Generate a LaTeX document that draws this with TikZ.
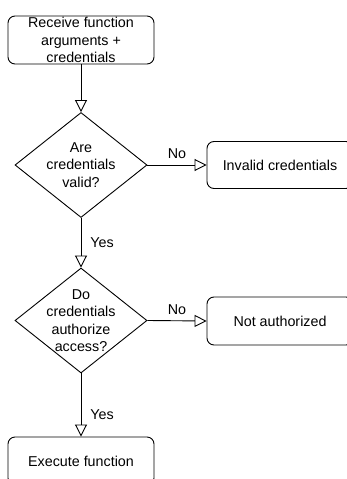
\documentclass[tikz,border=0pt]{standalone}
\usepackage{fontspec}
\setmainfont{Liberation Sans}
\usetikzlibrary{shapes.geometric,arrows.meta}
\begin{document}
\begin{tikzpicture}[x=1pt,y=1pt,
  every node/.style={font=\fontsize{14.3}{17.3}\selectfont},
  procbox/.style={draw, rounded corners=7pt, line width=0.9pt,
    minimum width=146pt, minimum height=48pt, inner sep=0pt, align=center},
  decision/.style={draw, diamond, line width=0.9pt, inner sep=0pt,
    minimum width=132pt, minimum height=105pt},
  flow/.style={line width=0.9pt,
    -{Triangle[open, length=12pt, width=12pt, line width=0.9pt]}},
  edgelabel/.style={inner sep=1pt}]
\useasboundingbox (0,0) rectangle (347,-479);
\clip (0,0) rectangle (347,-479);

% process boxes
\node[procbox] (recv) at (81,-40) {Receive function\\arguments +\\credentials};
\node[procbox, minimum height=47pt] (invalid) at (280,-165) {Invalid credentials};
\node[procbox] (noauth) at (280,-321) {Not authorized};
\node[procbox] (exec) at (81,-461) {Execute function};

% decisions (text set separately so the shape keeps its size)
\node[decision] (valid) at (81,-165) {};
\node[align=center] at (valid) {Are\\credentials\\valid?};
\node[decision] (authz) at (81,-320.5) {};
\node[align=center] at (authz) {Do\\credentials\\authorize\\access?};

% connectors
\draw[flow] (recv) -- (valid.north);
\draw[flow] (valid.east) -- node[edgelabel, above=5pt, pos=0.5] {No} (invalid.west);
\draw[flow] (valid.south) -- node[edgelabel, right=8pt, pos=0.5] {Yes} (authz.north);
\draw[flow] (authz.east) -- node[edgelabel, above=5pt, pos=0.5] {No} (noauth.west);
\draw[flow] (authz.south) -- node[edgelabel, right=8pt, pos=0.65] {Yes} (exec.north);
\end{tikzpicture}
\end{document}
